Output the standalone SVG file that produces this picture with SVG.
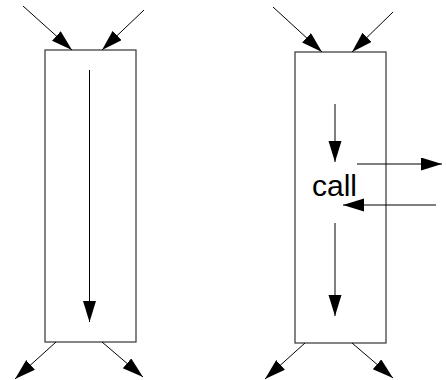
<svg xmlns="http://www.w3.org/2000/svg" width="447" height="380" viewBox="0 0 447 380">
<style>
.box{fill:#fff;stroke:#333;stroke-width:1.2}
.c{stroke:#000;stroke-width:1;fill:none;marker-end:url(#ah)}
.lbl{font-family:"Liberation Sans",Arial,sans-serif;font-size:30px;fill:#000}
</style>
<defs>
<marker id="ah" markerUnits="userSpaceOnUse" markerWidth="24" markerHeight="16" refX="21" refY="6.5" orient="auto">
<path d="M0,0 L21,6.5 L0,13 z" fill="#000"/>
</marker>
</defs>
<rect width="447" height="380" fill="#fff"/>
<g id="node-left">
<rect class="box" x="45" y="50" width="91" height="292"/>
</g>
<g id="node-right">
<rect class="box" x="295" y="52" width="91" height="291"/>
<text class="lbl" x="312" y="196">call</text>
</g>
<g id="connectors">
<line class="c" x1="23" y1="6" x2="72" y2="50"/>
<line class="c" x1="144" y1="10" x2="102" y2="50"/>
<line class="c" x1="56" y1="342" x2="15" y2="379"/>
<line class="c" x1="102" y1="342" x2="143" y2="377"/>
<line class="c" x1="89.5" y1="70" x2="89.5" y2="322"/>
<line class="c" x1="273" y1="7" x2="322" y2="52"/>
<line class="c" x1="393" y1="12" x2="352" y2="52"/>
<line class="c" x1="305" y1="343" x2="265" y2="379"/>
<line class="c" x1="352" y1="343" x2="393" y2="378"/>
<line class="c" x1="335" y1="104" x2="335" y2="162"/>
<line class="c" x1="335" y1="223" x2="335" y2="316"/>
<line class="c" x1="357" y1="164" x2="442" y2="164"/>
<line class="c" x1="436" y1="205" x2="343" y2="205"/>
</g>
</svg>
